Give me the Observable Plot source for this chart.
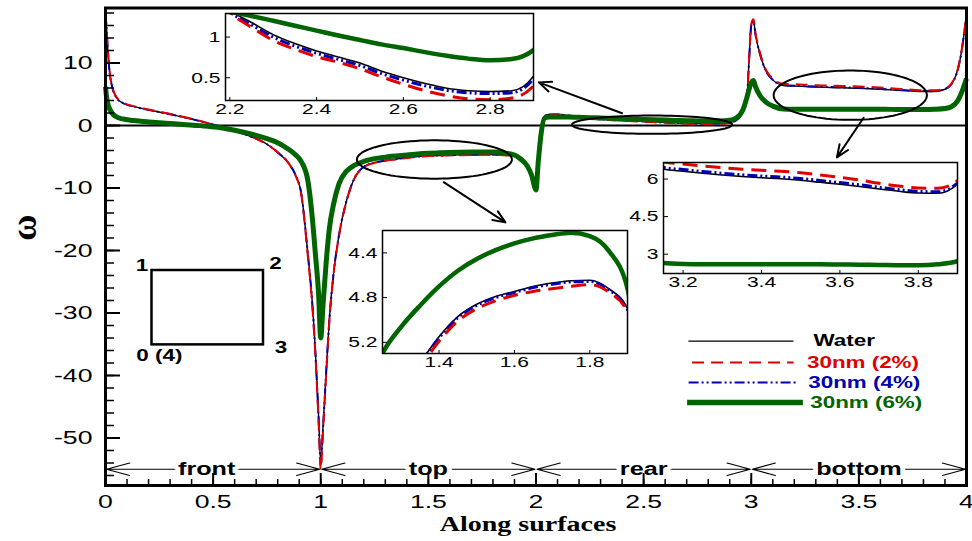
<!DOCTYPE html>
<html><head><meta charset="utf-8">
<script src="https://cdn.jsdelivr.net/npm/d3@7"></script>
<script src="https://cdn.jsdelivr.net/npm/@observablehq/plot@0.6"></script>
<style>
html,body{margin:0;padding:0;background:#fff;}
#wrap{position:relative;width:972px;height:541px;overflow:hidden;background:#fff;}
</style></head><body><div id="wrap"></div>
<script>
// ---------------- data ----------------
const xs = [
  0, 0.005, 0.01, 0.02, 0.03, 0.05, 0.08, 0.13, 0.2, 0.28, 0.36, 0.44, 0.52, 0.6, 0.67, 0.75, 0.8, 0.85, 0.88, 0.91, 0.94, 0.96, 0.975, 0.99, 1.0,
  1.01, 1.025, 1.04, 1.06, 1.085, 1.12, 1.16, 1.2, 1.25, 1.3, 1.35, 1.4, 1.45, 1.5, 1.55, 1.6, 1.65, 1.7, 1.75, 1.8, 1.85, 1.9, 1.93, 1.96, 1.98, 2.0,
  2.01, 2.025, 2.04, 2.06, 2.1, 2.15, 2.2, 2.25, 2.3, 2.35, 2.4, 2.45, 2.5, 2.55, 2.6, 2.65, 2.7, 2.75, 2.8, 2.85, 2.9, 2.93, 2.96, 2.98, 2.99, 3.0,
  3.01, 3.02, 3.04, 3.07, 3.1, 3.15, 3.2, 3.25, 3.3, 3.35, 3.4, 3.45, 3.5, 3.55, 3.6, 3.65, 3.7, 3.75, 3.8, 3.85, 3.9, 3.93, 3.96, 3.98, 3.99, 4.0
];
const water = [
  17.9, 15.5, 12.5, 8.3, 6.3, 4.5, 3.6, 3.05, 2.5, 1.95, 1.35, 0.7, -0.05, -0.85, -1.7, -3.0, -4.3, -6.0, -7.7, -11.0, -20.5, -28, -36, -46.5, -54,
  -48.5, -39.5, -31, -23.5, -17.5, -12, -8.2, -6.6, -5.95, -5.6, -5.38, -5.15, -4.97, -4.86, -4.79, -4.745, -4.70, -4.67, -4.65, -4.645, -4.72, -4.90, -5.5, -6.6, -8.0, -9.8,
  -5.5, -0.5, 1.5, 1.75, 1.75, 1.6, 1.33, 1.18, 1.03, 0.92, 0.83, 0.755, 0.68, 0.58, 0.5, 0.43, 0.37, 0.34, 0.33, 0.34, 0.52, 0.85, 2.2, 4.5, 10.5, 16.0,
  16.8, 14.5, 11.5, 8.6, 7.3, 6.40, 6.31, 6.23, 6.16, 6.10, 6.05, 6.01, 5.95, 5.87, 5.79, 5.70, 5.60, 5.51, 5.44, 5.43, 5.80, 6.6, 9.0, 12.5, 15.0, 17.5
];
const np2 = [
  17.9, 15.6, 12.6, 8.4, 6.4, 4.6, 3.7, 3.1, 2.55, 2.0, 1.4, 0.72, -0.05, -0.85, -1.7, -3.0, -4.3, -6.0, -7.8, -11.2, -20.9, -28.5, -36.7, -47.4, -55,
  -49.2, -40, -31.3, -23.7, -17.6, -12.1, -8.25, -6.65, -5.99, -5.64, -5.42, -5.19, -5.01, -4.90, -4.83, -4.78, -4.745, -4.72, -4.70, -4.685, -4.75, -4.93, -5.5, -6.6, -8.0, -9.8,
  -5.5, -0.5, 1.5, 1.75, 1.75, 1.6, 1.3, 1.12, 0.96, 0.85, 0.76, 0.69, 0.61, 0.51, 0.42, 0.34, 0.28, 0.24, 0.23, 0.25, 0.40, 0.75, 2.2, 4.5, 10.6, 16.2,
  17.0, 14.7, 11.7, 8.8, 7.5, 6.68, 6.6, 6.52, 6.45, 6.39, 6.35, 6.31, 6.25, 6.16, 6.07, 5.96, 5.83, 5.72, 5.64, 5.63, 5.93, 6.7, 9.1, 12.6, 15.1, 17.6
];
const np4 = [
  17.8, 15.4, 12.4, 8.3, 6.3, 4.5, 3.6, 3.05, 2.5, 1.95, 1.35, 0.7, -0.05, -0.85, -1.7, -3.0, -4.3, -6.0, -7.7, -11.0, -20.6, -28.2, -36.3, -46.9, -54.3,
  -48.8, -39.7, -31.1, -23.6, -17.5, -12, -8.2, -6.6, -5.96, -5.61, -5.39, -5.16, -4.98, -4.87, -4.80, -4.755, -4.71, -4.68, -4.66, -4.655, -4.73, -4.91, -5.5, -6.6, -8.0, -9.8,
  -5.5, -0.5, 1.5, 1.75, 1.75, 1.6, 1.31, 1.15, 1.0, 0.89, 0.80, 0.725, 0.65, 0.55, 0.47, 0.40, 0.345, 0.315, 0.305, 0.315, 0.49, 0.83, 2.2, 4.5, 10.5, 16.0,
  16.8, 14.5, 11.5, 8.6, 7.3, 6.47, 6.38, 6.30, 6.23, 6.17, 6.12, 6.08, 6.02, 5.94, 5.86, 5.77, 5.67, 5.58, 5.51, 5.49, 5.85, 6.6, 9.0, 12.5, 15.0, 17.5
];
const np6 = [
  6.2, 4.6, 3.6, 2.6, 2.0, 1.4, 1.05, 0.8, 0.57, 0.38, 0.17, -0.02, -0.27, -0.75, -1.3, -2.1, -2.75, -3.8, -4.6, -5.8, -8.8, -14.5, -20.5, -27, -34,
  -29, -22, -16.5, -12.5, -9.3, -7.3, -6.3, -5.75, -5.3, -5.06, -4.87, -4.70, -4.56, -4.455, -4.375, -4.315, -4.27, -4.24, -4.22, -4.25, -4.38, -4.72, -5.4, -6.5, -8.0, -10.3,
  -6.0, -1.0, 1.2, 1.35, 1.38, 1.35, 1.31, 1.26, 1.2, 1.14, 1.08, 1.02, 0.965, 0.91, 0.865, 0.815, 0.77, 0.735, 0.715, 0.73, 0.84, 1.2, 2.4, 4.5, 5.8, 6.9,
  7.2, 6.2, 4.8, 3.7, 3.1, 2.65, 2.61, 2.6, 2.6, 2.6, 2.6, 2.6, 2.6, 2.6, 2.59, 2.58, 2.57, 2.56, 2.56, 2.6, 2.72, 3.0, 4.0, 5.5, 6.5, 7.5
];
const seriesLabels = ["Water", "30nm (2%)", "30nm (4%)", "30nm (6%)"];

// tick labels
const xTicks = [0, 0.5, 1, 1.5, 2, 2.5, 3, 3.5, 4];
const yTicks = [-50, -40, -30, -20, -10, 0, 10];
const xMinor = d3.range(0, 41).map(i => i / 10);
const yMinor = d3.range(-56, 19, 2);

// surfaces along the perimeter
const surfaceEdges = [0, 1, 2, 3, 4];
const surfaceNames = ["front", "top", "rear", "bottom"];
const surfaceLabelX = [0.47, 1.5, 2.5, 3.5];
const surfaceY = -55;

// schematic of the square cylinder and its corner numbers
const schematic = [{x1: 0.216, x2: 0.734, y1: -35.1, y2: -23.2}];
const cornerLabels = ["1", "2", "3", "0 (4)"];
const cornerX = [0.17, 0.79, 0.815, 0.25];
const cornerY = [-22.4, -22.2, -35.6, -36.9];

// zoom annotations
const ellipses = [
  {cx: 1.528, cy: -5.44, rx: 0.36, ry: 3.07},
  {cx: 2.539, cy: 0.13, rx: 0.372, ry: 1.47},
  {cx: 3.46, cy: 4.85, rx: 0.356, ry: 3.95}
];
const pointers = [
  {x1: 1.571, y1: -9.07, x2: 1.858, y2: -15.5},
  {x1: 2.40, y1: 1.97, x2: 2.013, y2: 6.9},
  {x1: 3.522, y1: 1.23, x2: 3.398, y2: -5.1}
];

// ---------------- styles / layout ----------------
const FONT = "'Liberation Sans', Arial, Helvetica, sans-serif";
const SERIF = "'Liberation Serif', 'Times New Roman', serif";
const STRETCH = 1.4;

const styleOf = {
  water: {values: water, label: seriesLabels[0], color: "#000000", w: 1.4, dash: null, iw: 1.6, idash: null},
  np2:   {values: np2,   label: seriesLabels[1], color: "#e00000", w: 2,   dash: "12,7", iw: 3, idash: "15,8"},
  np4:   {values: np4,   label: seriesLabels[2], color: "#0000b0", w: 2,   dash: "10,3,2,3,2,3", iw: 3, idash: "10,3,2,3,2,3"},
  np6:   {values: np6,   label: seriesLabels[3], color: "#006400", w: 5,   dash: null, iw: 4.5, idash: null}
};
const drawOrder = ["water", "np4", "np2", "np6"];
const legendOrder = ["water", "np2", "np4", "np6"];
const legendLayout = {
  water: {x1: 2.708, x2: 3.196, tx: 3.289, y: -34.5},
  np2:   {x1: 2.725, x2: 3.197, tx: 3.259, y: -37.9},
  np4:   {x1: 2.709, x2: 3.213, tx: 3.265, y: -41.1},
  np6:   {x1: 2.702, x2: 3.24,  tx: 3.274, y: -44.3}
};

const rowsOf = arr => xs.map((x, i) => ({x, y: arr[i]}));
for (const k of drawOrder) if (styleOf[k].values.length !== xs.length) console.warn("length mismatch", k, styleOf[k].values.length, xs.length);

function seriesMarks(inset) {
  return drawOrder.map(k => {
    const s = styleOf[k];
    return Plot.line(rowsOf(s.values), {
      x: "x", y: "y", curve: "monotone-x",
      stroke: s.color, strokeWidth: inset ? s.iw : s.w,
      strokeDasharray: (inset ? s.idash : s.dash) || undefined,
      strokeLinecap: "butt", strokeLinejoin: "round", clip: inset
    });
  });
}

const surfaceArrows = surfaceNames.flatMap((n, i) => {
  const a = surfaceEdges[i], b = surfaceEdges[i + 1], m = (a + b) / 2;
  return [{x1: m, x2: a}, {x1: m, x2: b}];
});
const ellipsePts = ellipses.flatMap((e, k) => d3.range(0, 91).map(i => {
  const t = i / 90 * 2 * Math.PI;
  return {k, x: e.cx + e.rx * Math.cos(t), y: e.cy + e.ry * Math.sin(t)};
}));

const legendMarks = legendOrder.flatMap(k => {
  const s = styleOf[k], L = legendLayout[k];
  return [
    Plot.link([L], {x1: "x1", x2: "x2", y1: "y", y2: "y", stroke: s.color, strokeWidth: s.w + (k === "np6" ? 0.5 : 0),
      strokeDasharray: s.dash || undefined, strokeLinecap: "butt"}),
    Plot.text([L], {x: "tx", y: "y", text: () => s.label, textAnchor: "start", fill: s.color,
      fontWeight: "bold", fontSize: 16, fontFamily: FONT})
  ];
});

const mainPlot = Plot.plot({
  width: 972, height: 541,
  marginLeft: 105, marginRight: 6, marginTop: 7.5, marginBottom: 56,
  x: {domain: [0, 4]},
  y: {domain: [-57.6, 18.8]},
  style: {fontFamily: FONT, fontSize: "19px", color: "black", background: "white", position: "absolute", left: "0px", top: "0px"},
  marks: [
    Plot.ruleY([0], {stroke: "black", strokeWidth: 1.8}),
    Plot.rect(schematic, {x1: "x1", x2: "x2", y1: "y1", y2: "y2", fill: "none", stroke: "black", strokeWidth: 2.5}),
    Plot.text(cornerLabels, {x: (d, i) => cornerX[i], y: (d, i) => cornerY[i], text: d => d, fontWeight: "bold", fontSize: 16, fontFamily: FONT}),
    ...seriesMarks(false),
    Plot.line(ellipsePts, {x: "x", y: "y", z: "k", stroke: "black", strokeWidth: 2, curve: "linear"}),
    Plot.arrow(pointers, {x1: "x1", y1: "y1", x2: "x2", y2: "y2", stroke: "black", strokeWidth: 2, headLength: 10, headAngle: 45}),
    Plot.arrow(surfaceArrows, {x1: "x1", x2: "x2", y1: () => surfaceY, y2: () => surfaceY, stroke: "black", strokeWidth: 1.2, headLength: 30, headAngle: 30, insetEnd: 1}),
    Plot.text(surfaceNames, {x: (d, i) => surfaceLabelX[i], y: () => surfaceY, text: d => d, fontWeight: "bold", fontSize: 18, fontFamily: FONT,
      fill: "black", stroke: "white", strokeWidth: 7, paintOrder: "stroke"}),
    ...legendMarks,
    Plot.axisY({ticks: yTicks, tickSize: 0, tickPadding: 13, tickFormat: d => String(d), fontSize: 19, label: null}),
    Plot.axisX({ticks: xTicks, tickSize: 0, tickPadding: 9, tickFormat: d => String(d), fontSize: 19, label: null}),
    Plot.axisY({anchor: "right", frameAnchor: "left", ticks: yMinor, tickSize: 8, fill: "none", label: null, strokeWidth: 1.5}),
    Plot.axisY({anchor: "right", frameAnchor: "left", ticks: yTicks, tickSize: 14, fill: "none", label: null, strokeWidth: 2}),
    Plot.axisX({anchor: "top", frameAnchor: "bottom", ticks: xMinor, tickSize: 7, fill: "none", label: null, strokeWidth: 1.5}),
    Plot.axisX({anchor: "top", frameAnchor: "bottom", ticks: xTicks, tickSize: 13, fill: "none", label: null, strokeWidth: 2}),
    Plot.text(["ω"], {frameAnchor: "left", dx: -81, dy: -6, rotate: -90, text: d => d, fontSize: 36, fontWeight: "bold", fontFamily: SERIF, lineAnchor: "middle"}),
    Plot.text(["Along surfaces"], {frameAnchor: "bottom", dx: -8, dy: 39, text: d => d, fontSize: 20, fontWeight: "bold", fontFamily: SERIF, lineAnchor: "middle"}),
    Plot.frame({stroke: "black", strokeWidth: 3})
  ]
});

function inset({xDomain, yDomain, xt, yt, yFmt, frame}) {
  const mL = 40, mR = 6, mT = 3, mB = 22;
  const w = frame.right - frame.left, h = frame.bottom - frame.top;
  return Plot.plot({
    width: w + mL + mR, height: h + mT + mB,
    marginLeft: mL, marginRight: mR, marginTop: mT, marginBottom: mB,
    x: {domain: xDomain}, y: {domain: yDomain},
    style: {fontFamily: FONT, fontSize: "15px", color: "black", background: "transparent", overflow: "visible",
      position: "absolute", left: (frame.left - mL) + "px", top: (frame.top - mT) + "px"},
    marks: [
      Plot.frame({fill: "white", stroke: "none"}),
      ...seriesMarks(true),
      Plot.axisY({ticks: yt, tickSize: 0, tickPadding: 5, tickFormat: yFmt, fontSize: 15, label: null}),
      Plot.axisX({ticks: xt, tickSize: 0, tickPadding: 3, tickFormat: d => String(d), fontSize: 15, label: null}),
      Plot.axisY({anchor: "right", frameAnchor: "left", ticks: yt, tickSize: 4, fill: "none", label: null}),
      Plot.axisX({anchor: "top", frameAnchor: "bottom", ticks: xt, tickSize: 4, fill: "none", label: null}),
      Plot.frame({stroke: "black", strokeWidth: 1.5})
    ]
  });
}

const inset1 = inset({xDomain: [2.19, 2.9], yDomain: [0.22, 1.29], xt: [2.2, 2.4, 2.6, 2.8], yt: [0.5, 1], yFmt: d => String(d),
  frame: {left: 225, right: 533, top: 13, bottom: 100}});
const inset2 = inset({xDomain: [1.25, 1.9], yDomain: [-5.3, -4.2], xt: [1.4, 1.6, 1.8], yt: [-5.2, -4.8, -4.4], yFmt: d => Math.abs(d).toFixed(1),
  frame: {left: 382, right: 627, top: 230, bottom: 353}});
const inset3 = inset({xDomain: [3.15, 3.9], yDomain: [2.23, 6.66], xt: [3.2, 3.4, 3.6, 3.8], yt: [3, 4.5, 6], yFmt: d => String(d),
  frame: {left: 663, right: 957, top: 162, bottom: 273}});

const wrap = document.getElementById("wrap");
for (const p of [mainPlot, inset1, inset2, inset3]) wrap.appendChild(p);

// the reference figure is horizontally stretched: widen the glyphs the same way
document.querySelectorAll("#wrap svg text").forEach(t => {
  if (t.textContent === "ω") return;
  const spans = t.querySelectorAll("tspan");
  const targets = spans.length ? Array.from(spans) : [t];
  for (const el of targets) {
    const L = el.getComputedTextLength();
    if (L > 0) {
      el.setAttribute("textLength", (L * STRETCH).toFixed(1));
      el.setAttribute("lengthAdjust", "spacingAndGlyphs");
    }
  }
});
</script></body></html>
